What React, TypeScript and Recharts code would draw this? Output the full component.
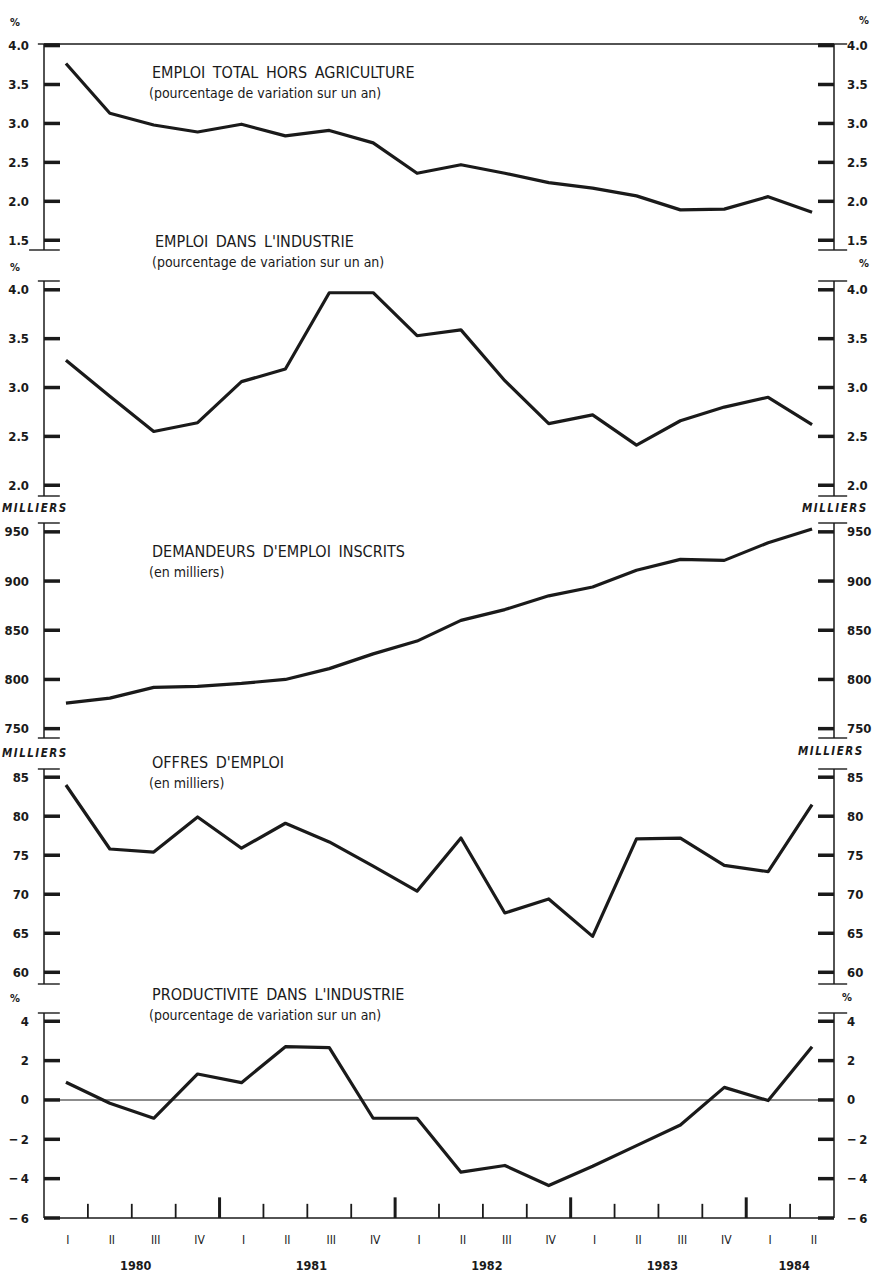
import React from "react";
import { LineChart, Line, XAxis, YAxis, ReferenceLine } from "recharts";

const QUARTERS = ["I", "II", "III", "IV", "I", "II", "III", "IV", "I", "II", "III", "IV", "I", "II", "III", "IV", "I", "II"];
const YEARS = ["1980", "1981", "1982", "1983", "1984"];
const YEAR_CENTERS = [2, 6, 10, 14, 17];
const QUARTER_CENTERS = QUARTERS.map((_, i) => i + 0.5);
const BOUNDARIES = QUARTERS.slice(1).map((_, i) => i + 1);

const emploiTotal = [3.77, 3.13, 2.98, 2.89, 2.99, 2.84, 2.91, 2.75, 2.36, 2.47, 2.36, 2.24, 2.17, 2.07, 1.89, 1.9, 2.06, 1.86];
const emploiIndustrie = [3.28, 2.91, 2.55, 2.64, 3.06, 3.19, 3.97, 3.97, 3.53, 3.59, 3.07, 2.63, 2.72, 2.41, 2.66, 2.8, 2.9, 2.62];
const demandeurs = [776, 781, 792, 793, 796, 800, 811, 826, 839, 860, 871, 885, 894, 911, 922, 921, 939, 953];
const offres = [84.0, 75.8, 75.4, 79.9, 75.9, 79.1, 76.7, 73.6, 70.4, 77.2, 67.6, 69.4, 64.6, 77.1, 77.2, 73.7, 72.9, 81.5];
const productivite = [0.9, -0.17, -0.93, 1.32, 0.88, 2.71, 2.66, -0.93, -0.93, -3.67, -3.33, -4.35, -3.37, -2.32, -1.27, 0.64, -0.03, 2.71];

const INK = "#1a1a1a";
const FONT = '"Liberation Sans Narrow", "DejaVu Sans Condensed", "Roboto Condensed", "Arial Narrow", sans-serif';
const W = 872;
const LEFT_W = 44;
const RIGHT_W = 38;

const rows = (vals: number[]) => vals.map((v, i) => ({ x: i + 0.5, v }));
const dec1 = (v: number) => v.toFixed(1);
const int = (v: number) => (v < 0 ? "\u2212\u2009" + Math.abs(v) : String(v));

function LeftTick(props: any) {
  const { x, y, payload, fmt } = props;
  return (
    <g>
      <line x1={x} x2={x + 16} y1={y} y2={y} stroke={INK} strokeWidth={3.5} />
      <text x={x - 15} y={y} textAnchor="end" dominantBaseline="central" fontFamily={FONT} fontSize={13} fontWeight="bold" fill={INK}>
        {fmt(payload.value)}
      </text>
    </g>
  );
}

function RightTick(props: any) {
  const { x, y, payload, fmt } = props;
  return (
    <g>
      <line x1={x - 16} x2={x} y1={y} y2={y} stroke={INK} strokeWidth={3.5} />
      <text x={x + 13} y={y} textAnchor="start" dominantBaseline="central" fontFamily={FONT} fontSize={13} fontWeight="bold" fill={INK}>
        {fmt(payload.value)}
      </text>
    </g>
  );
}

function QuarterTick(props: any) {
  const { x, y, index } = props;
  return (
    <text x={x + 2} y={y + 22} textAnchor="middle" dominantBaseline="central" fontFamily={FONT} fontSize={12} fill={INK}>
      {QUARTERS[index]}
    </text>
  );
}

function YearTick(props: any) {
  const { x, y, index } = props;
  return (
    <text x={x + 4} y={y + 11} textAnchor="middle" dominantBaseline="central" fontFamily={FONT} fontSize={12.5} fontWeight="bold" fill={INK}>
      {YEARS[index]}
    </text>
  );
}

type PanelProps = {
  top: number;
  height: number;
  domain: [number, number];
  ticks: number[];
  fmt: (v: number) => string;
  values: number[];
  bottomStubLeft?: number;
  topBorder?: boolean;
  last?: boolean;
};

function Panel({ top, height, domain, ticks, fmt, values, bottomStubLeft = -0.14, topBorder, last }: PanelProps) {
  const data = rows(values);
  const extra = last ? 36 + 24 : 0;
  const [lo, hi] = domain;
  return (
    <div style={{ position: "absolute", left: 0, top }}>
      <LineChart width={W} height={height + extra} data={data} margin={{ top: 0, right: 0, bottom: 0, left: 0 }}>
        {last ? (
          <>
            <XAxis
              xAxisId="q"
              type="number"
              dataKey="x"
              domain={[0, 18]}
              ticks={QUARTER_CENTERS}
              interval={0}
              tick={<QuarterTick />}
              tickLine={false}
              tickSize={0}
              tickMargin={0}
              axisLine={{ stroke: INK, strokeWidth: 1.4 }}
              height={36}
            />
            <XAxis
              xAxisId="yr"
              type="number"
              dataKey="x"
              domain={[0, 18]}
              ticks={YEAR_CENTERS}
              interval={0}
              tick={<YearTick />}
              tickLine={false}
              tickSize={0}
              tickMargin={0}
              axisLine={false}
              height={24}
            />
          </>
        ) : (
          <XAxis xAxisId="q" type="number" dataKey="x" domain={[0, 18]} hide />
        )}
        <YAxis
          yAxisId="l"
          orientation="left"
          type="number"
          domain={domain}
          ticks={ticks}
          interval={0}
          allowDataOverflow
          width={LEFT_W}
          tickLine={false}
          tickSize={0}
          tickMargin={0}
          axisLine={{ stroke: INK, strokeWidth: 1.5 }}
          tick={(p: any) => <LeftTick {...p} fmt={fmt} />}
        />
        <YAxis
          yAxisId="r"
          orientation="right"
          type="number"
          domain={domain}
          ticks={ticks}
          interval={0}
          allowDataOverflow
          width={RIGHT_W}
          tickLine={false}
          tickSize={0}
          tickMargin={0}
          axisLine={{ stroke: INK, strokeWidth: 1.5 }}
          tick={(p: any) => <RightTick {...p} fmt={fmt} />}
        />
        {topBorder && <ReferenceLine xAxisId="q" yAxisId="l" y={hi} stroke={INK} strokeWidth={1.3} />}
        <ReferenceLine xAxisId="q" yAxisId="l" ifOverflow="visible" stroke={INK} strokeWidth={1.4} segment={[{ x: -0.14, y: hi }, { x: 0.36, y: hi }]} />
        <ReferenceLine xAxisId="q" yAxisId="l" ifOverflow="visible" stroke={INK} strokeWidth={1.4} segment={[{ x: 17.64, y: hi }, { x: 18.3, y: hi }]} />
        {!last && (
          <>
            <ReferenceLine xAxisId="q" yAxisId="l" ifOverflow="visible" stroke={INK} strokeWidth={1.4} segment={[{ x: bottomStubLeft, y: lo }, { x: 0.36, y: lo }]} />
            <ReferenceLine xAxisId="q" yAxisId="l" ifOverflow="visible" stroke={INK} strokeWidth={1.4} segment={[{ x: 17.64, y: lo }, { x: 18.3, y: lo }]} />
          </>
        )}
        {last && <ReferenceLine xAxisId="q" yAxisId="l" y={0} stroke={INK} strokeWidth={1.1} />}
        {last &&
          BOUNDARIES.map((b) => (
            <ReferenceLine
              key={b}
              xAxisId="q"
              yAxisId="l"
              stroke={INK}
              strokeWidth={b % 4 === 0 ? 3 : 1.8}
              segment={[{ x: b, y: lo }, { x: b, y: lo + (b % 4 === 0 ? 1.05 : 0.72) }]}
            />
          ))}
        <Line
          xAxisId="q"
          yAxisId="l"
          type="linear"
          dataKey="v"
          stroke={INK}
          strokeWidth={3.2}
          strokeLinejoin="round"
          dot={false}
          isAnimationActive={false}
        />
      </LineChart>
    </div>
  );
}

const txt = (left: number, cy: number, s: React.CSSProperties = {}): React.CSSProperties => ({
  position: "absolute",
  left,
  top: cy,
  transform: "translateY(-50%)",
  whiteSpace: "nowrap",
  lineHeight: 1,
  fontFamily: FONT,
  color: INK,
  ...s,
});

const titleStyle: React.CSSProperties = { fontSize: 16, letterSpacing: 0, wordSpacing: 3 };
const subStyle: React.CSSProperties = { fontSize: 14 };
const unitStyle: React.CSSProperties = { fontSize: 11, fontWeight: "bold" };
const millStyle: React.CSSProperties = { fontSize: 11.5, fontWeight: "bold", fontStyle: "italic", letterSpacing: 1.5 };

function Title({ left, cy, title, sub }: { left: number; cy: number; title: string; sub: string }) {
  return (
    <>
      <div style={txt(left, cy, titleStyle)}>{title}</div>
      <div style={txt(left - 3, cy + 20, subStyle)}>{sub}</div>
    </>
  );
}

export default function App() {
  return (
    <div style={{ position: "absolute", left: 0, top: 0, width: W, height: 1273, overflow: "hidden", background: "#fff" }}>
      <style>{`.recharts-surface{overflow:visible}`}</style>
      <Panel top={44} height={206} domain={[1.375, 4.02]} ticks={[1.5, 2, 2.5, 3, 3.5, 4]} fmt={dec1} values={emploiTotal} bottomStubLeft={-0.34} topBorder />
      <Panel top={281} height={215} domain={[1.89, 4.09]} ticks={[2, 2.5, 3, 3.5, 4]} fmt={dec1} values={emploiIndustrie} />
      <Panel top={523} height={215} domain={[740.5, 959]} ticks={[750, 800, 850, 900, 950]} fmt={int} values={demandeurs} />
      <Panel top={769} height={215} domain={[58.5, 86.05]} ticks={[60, 65, 70, 75, 80, 85]} fmt={int} values={offres} />
      <Panel top={1013} height={205} domain={[-6, 4.42]} ticks={[-6, -4, -2, 0, 2, 4]} fmt={int} values={productivite} last />

      <div style={txt(10, 22, unitStyle)}>%</div>
      <div style={txt(859, 20, unitStyle)}>%</div>
      <div style={txt(10, 267, unitStyle)}>%</div>
      <div style={txt(859, 263, unitStyle)}>%</div>
      <div style={txt(2, 509, millStyle)}>MILLIERS</div>
      <div style={txt(802, 509, millStyle)}>MILLIERS</div>
      <div style={txt(2, 754, millStyle)}>MILLIERS</div>
      <div style={txt(798, 752, millStyle)}>MILLIERS</div>
      <div style={txt(10, 998, unitStyle)}>%</div>
      <div style={txt(842, 997, unitStyle)}>%</div>

      <Title left={152} cy={73} title="EMPLOI TOTAL HORS AGRICULTURE" sub="(pourcentage de variation sur un an)" />
      <Title left={155} cy={242} title="EMPLOI DANS L'INDUSTRIE" sub="(pourcentage de variation sur un an)" />
      <Title left={152} cy={552} title="DEMANDEURS D'EMPLOI INSCRITS" sub="(en milliers)" />
      <Title left={152} cy={763} title="OFFRES D'EMPLOI" sub="(en milliers)" />
      <Title left={152} cy={995} title="PRODUCTIVITE DANS L'INDUSTRIE" sub="(pourcentage de variation sur un an)" />
    </div>
  );
}
